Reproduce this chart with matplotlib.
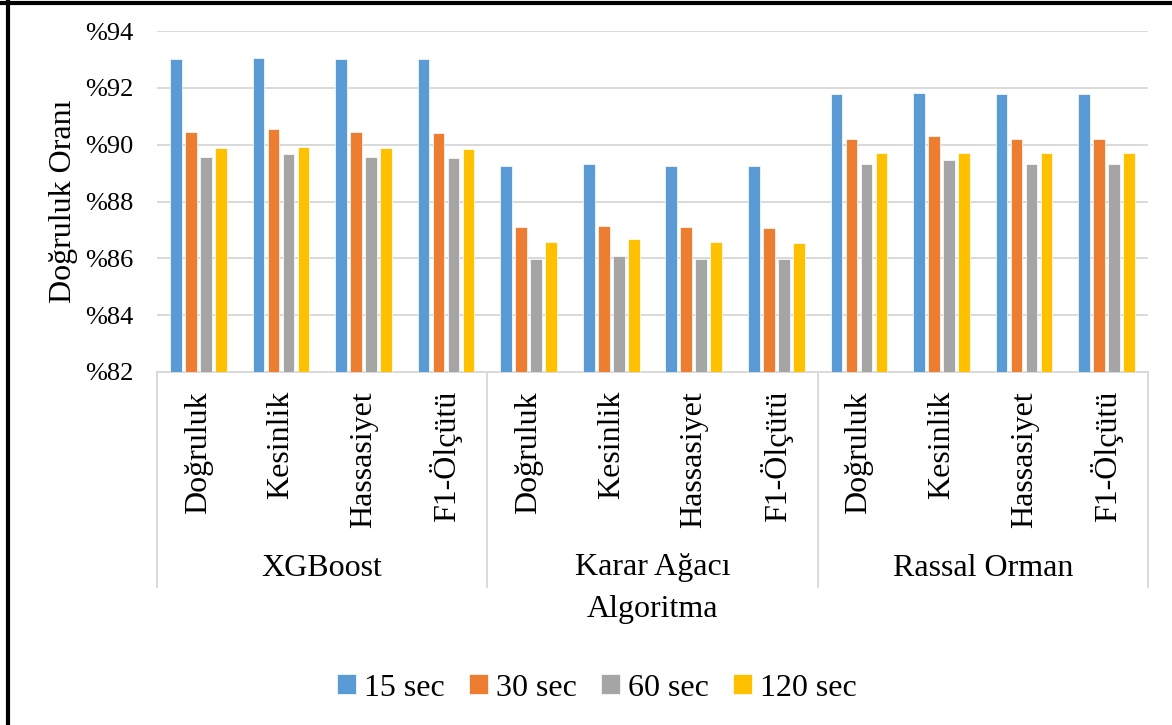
import matplotlib
matplotlib.use("Agg")
import matplotlib.pyplot as plt
import matplotlib.transforms as mtransforms
from matplotlib.lines import Line2D
import numpy as np

plt.rcParams['font.family'] = ['Liberation Serif', 'DejaVu Serif']

algorithms = ["XGBoost", "Karar Ağacı", "Rassal Orman"]
metrics = ["Doğruluk", "Kesinlik", "Hassasiyet", "F1-Ölçütü"]
series_names = ["15 sec", "30 sec", "60 sec", "120 sec"]
colors = ["#5B9BD5", "#ED7D31", "#A5A5A5", "#FFC000"]

# values per series, ordered algorithm by algorithm, metric by metric
sec15 = [93.01, 93.04, 93.01, 93.00,
         89.26, 89.31, 89.26, 89.26,
         91.79, 91.82, 91.79, 91.78]
sec30 = [90.45, 90.54, 90.45, 90.42,
         87.09, 87.13, 87.09, 87.07,
         90.21, 90.29, 90.21, 90.19]
sec60 = [89.58, 89.68, 89.58, 89.53,
         85.98, 86.08, 85.98, 85.99,
         89.31, 89.47, 89.31, 89.33]
sec120 = [89.87, 89.92, 89.87, 89.86,
          86.56, 86.67, 86.56, 86.53,
          89.72, 89.72, 89.72, 89.69]
series = [sec15, sec30, sec60, sec120]

yticks = [82, 84, 86, 88, 90, 92, 94]
ytick_labels = ["%" + str(v) for v in yticks]

W, H = 1172, 725
fig = plt.figure(figsize=(W / 100, H / 100), dpi=100)
ax = fig.add_axes([157 / W, (H - 372) / H, (1148 - 157) / W, (372 - 31) / H])

n_cat = len(algorithms) * len(metrics)
centers = np.arange(n_cat) + 0.5
pitch = 0.1816
bar_w = 0.1416
for i, (vals, col) in enumerate(zip(series, colors)):
    ax.bar(centers + (i - 1.5) * pitch, np.array(vals) - 82, bottom=82,
           width=bar_w, color=col, edgecolor="white", linewidth=0.5,
           label=series_names[i], zorder=3)

ax.set_xlim(0, n_cat)
ax.set_ylim(82, 94)
ax.set_yticks(yticks)
ax.set_yticklabels(ytick_labels, fontsize=19)
ax.set_xticks([])
ax.tick_params(axis="y", length=0, pad=17)
ax.yaxis.grid(True, color="#D9D9D9", linewidth=1.4, zorder=0)
ax.set_axisbelow(True)
for s in ["left", "right", "top"]:
    ax.spines[s].set_visible(False)
ax.spines["bottom"].set_color("#D9D9D9")
ax.spines["bottom"].set_linewidth(1.4)

trans = mtransforms.blended_transform_factory(ax.transData, ax.transAxes)
ppx = 1 / 341  # axes fraction per pixel (vertical)

# metric labels
for k, c in enumerate(centers):
    ax.text(c, -(391 - 372) * ppx, metrics[k % len(metrics)], rotation=90,
            ha="center", va="top", fontsize=23, transform=trans)

# algorithm labels and group separators
for g, name in enumerate(algorithms):
    mid = g * len(metrics) + len(metrics) / 2
    ax.text(mid, -(568 - 372) * ppx, name, ha="center", va="center",
            fontsize=23, transform=trans)
for g in range(len(algorithms) + 1):
    x = g * len(metrics)
    ax.add_line(Line2D([x, x], [0, -(587 - 372) * ppx], transform=trans,
                       color="#D9D9D9", linewidth=1.4, clip_on=False))

ax.text(0.5, -(609 - 372) * ppx, "Algoritma", ha="center", va="center",
        fontsize=23, transform=ax.transAxes)

fig.text(64 / W, 1 - 201 / H, "Doğruluk Oranı", rotation=90, ha="center",
         va="center", fontsize=23)

fig.legend(loc="center", bbox_to_anchor=(597 / W, 1 - 688 / H), ncol=4,
           frameon=False, fontsize=23, handlelength=0.6, handleheight=0.6,
           handletextpad=0.25, columnspacing=0.75)

# outer frame (left and top edges)
fig.add_artist(Line2D([8 / W, 8 / W], [0, 1], transform=fig.transFigure,
                      color="black", linewidth=3))
fig.add_artist(Line2D([0, 1], [1 - 2.5 / H, 1 - 2.5 / H],
                      transform=fig.transFigure, color="black", linewidth=3))

fig.savefig("out.png", dpi=100, facecolor="white")
